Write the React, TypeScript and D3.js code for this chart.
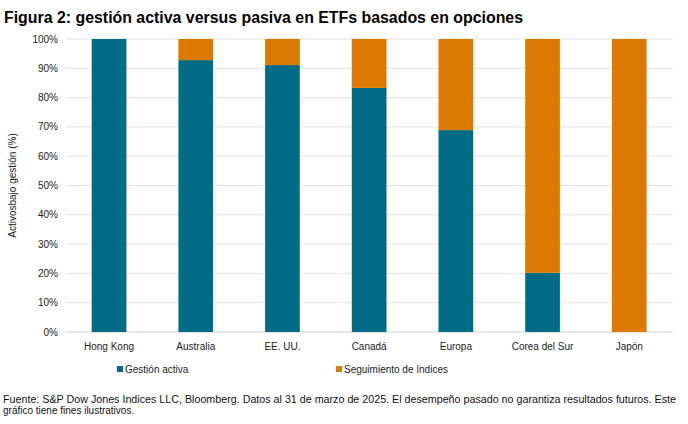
import React from "react";
import * as d3 from "d3";

const categories = ["Hong Kong", "Australia", "EE. UU.", "Canadá", "Europa", "Corea del Sur", "Japón"];
const activa = [100, 92.8, 91.1, 83.3, 68.9, 20.2, 0];
const yTicks = [0, 10, 20, 30, 40, 50, 60, 70, 80, 90, 100];
const seriesNames = ["Gestión activa", "Seguimiento de índices"];
const colors = ["#006b87", "#dc7900"];

export default function App() {
  const W = 688, H = 424;
  const left = 65.7, right = 672.6, top = 39, bottom = 332;
  const x = d3.scaleBand().domain(categories).range([left, right]).paddingInner(0.6).paddingOuter(0.3);
  const y = d3.scaleLinear().domain([0, 100]).range([bottom, top]);
  const font = "Liberation Sans, Arial, sans-serif";
  return (
    <svg width={W} height={H} style={{ position: "absolute", left: 0, top: 0, background: "#fff" }} fontFamily={font}>
      <rect width={W} height={H} fill="#fff" />
      <text x={4} y={23} fontSize={16} fontWeight="bold" fill="#000" textLength={519} lengthAdjust="spacingAndGlyphs">
        Figura 2: gestión activa versus pasiva en ETFs basados en opciones
      </text>
      {yTicks.map((t) => (
        <g key={t}>
          <line x1={left} x2={right} y1={y(t)} y2={y(t)} stroke={t === 0 ? "#d0d0d0" : "#e3e3e3"} strokeWidth={1} />
          <text x={58} y={y(t) + 3.5} fontSize={10} textAnchor="end" fill="#222">{t}%</text>
        </g>
      ))}
      {categories.map((c, i) => (
        <g key={c}>
          <rect x={x(c)} width={x.bandwidth()} y={y(activa[i])} height={bottom - y(activa[i])} fill={colors[0]} />
          <rect x={x(c)} width={x.bandwidth()} y={y(100)} height={y(activa[i]) - y(100)} fill={colors[1]} />
          <text x={(x(c) as number) + x.bandwidth() / 2} y={350} fontSize={10} textAnchor="middle" fill="#222">{c}</text>
        </g>
      ))}
      <text transform={`translate(16,${(top + bottom) / 2}) rotate(-90)`} fontSize={10} textAnchor="middle" fill="#222">
        Activosbajo gestión (%)
      </text>
      <rect x={117} y={366} width={6} height={6} fill={colors[0]} />
      <text x={125} y={372.5} fontSize={10} fill="#222">{seriesNames[0]}</text>
      <rect x={336} y={366} width={6} height={6} fill={colors[1]} />
      <text x={344} y={372.5} fontSize={10} fill="#222">{seriesNames[1]}</text>
      <text x={3} y={403} fontSize={10} fill="#111" textLength={673} lengthAdjust="spacingAndGlyphs">
        Fuente: S&amp;P Dow Jones Indices LLC, Bloomberg. Datos al 31 de marzo de 2025. El desempeño pasado no garantiza resultados futuros. Este
      </text>
      <text x={3} y={414} fontSize={10} fill="#111">gráfico tiene fines ilustrativos.</text>
    </svg>
  );
}
